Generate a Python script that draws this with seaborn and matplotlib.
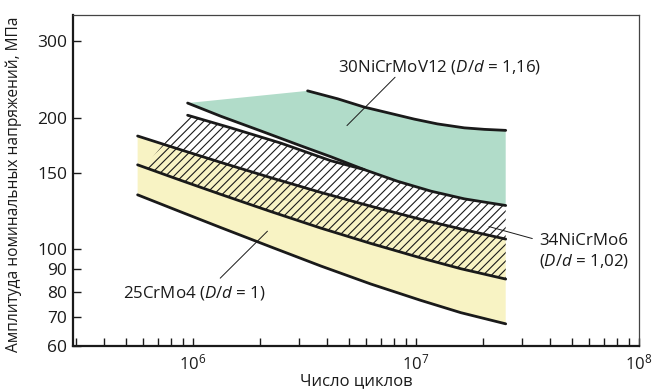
import numpy as np
import pandas as pd
import matplotlib
matplotlib.use("Agg")
import matplotlib.pyplot as plt
from matplotlib.ticker import NullFormatter, NullLocator, LogLocator
import seaborn as sns

# values (cycles, MPa)
# 30NiCrMoV12 band
n_green_top = [9.47e5, 3.27e6]
s_green_top = [216.6, 231]
n_green_upper = [3.27e6, 4.46e6, 5.87e6, 7.72e6, 9.83e6, 1.25e7, 1.65e7, 2.03e7, 2.53e7]
s_green_upper = [231, 221.5, 212, 205, 199, 194, 190, 188.5, 187.5]
n_line_a = [9.47e5, 1.335e6, 2.02e6, 3.05e6, 4.16e6, 5.87e6, 8.28e6, 1.17e7, 1.65e7, 2.53e7]
s_line_a = [216.6, 202.0, 186.9, 172.8, 163.1, 152.4, 143.3, 136.0, 130.6, 126.1]

# 34NiCrMo6 band (upper line runs into line A at ~5.9e6)
n_line_b = [9.47e5, 1.48e6, 2.48e6, 4.16e6, 5.87e6]
s_line_b = [203.1, 190.0, 175.3, 159.7, 152.4]
n_hatch_start = 6.05e5
s_hatch_start = 154.3

# common abscissas of the lower three curves
n_low = [5.65e5, 8.83e5, 1.335e6, 2.24e6, 3.75e6, 6.28e6, 1.053e7, 1.592e7, 2.53e7]
s_line_c = [182.0, 169.2, 158.3, 146.0, 135.1, 125.6, 117.2, 111.4, 105.6]
s_line_d = [156.3, 144.0, 133.7, 122.1, 111.9, 103.2, 95.6, 90.3, 85.5]
s_line_e = [133.4, 121.9, 112.2, 101.3, 91.6, 83.3, 76.4, 71.6, 67.5]

y_ticks = [60, 70, 80, 90, 100, 150, 200, 300]
x_ticks = [1e6, 1e7, 1e8]
x_tick_labels = [r"$\mathregular{10^6}$", r"$\mathregular{10^7}$", r"$\mathregular{10^8}$"]

green = "#b1dcc9"
yellow = "#f8f3c4"
ink = "#1a1a1a"

sns.set_theme(style="ticks")
plt.rcParams["font.family"] = ["Open Sans", "DejaVu Sans"]
plt.rcParams["mathtext.fontset"] = "custom"
plt.rcParams["mathtext.rm"] = "Open Sans"
plt.rcParams["mathtext.it"] = "Open Sans:italic"
plt.rcParams["hatch.linewidth"] = 0.8

fig = plt.figure(figsize=(6.64, 3.92), dpi=100)
ax = fig.add_axes([0.110, 0.117, 0.852, 0.845])
ax.set_xscale("log")
ax.set_yscale("log")

# fills
gx = n_green_top + n_green_upper[1:] + n_line_a[::-1]
gy = s_green_top + s_green_upper[1:] + s_line_a[::-1]
ax.fill(gx, gy, color=green, lw=0, zorder=1)

ax.fill(n_low + n_low[::-1], s_line_c + s_line_e[::-1], color=yellow, lw=0, zorder=1)

hx = n_line_b + n_line_a[6:] + n_low[:0:-1] + [n_hatch_start]
hy = s_line_b + s_line_a[6:] + s_line_d[:0:-1] + [s_hatch_start]
ax.fill(hx, hy, facecolor="none", edgecolor=ink, hatch="////", lw=0, zorder=2)

# black curves
curves = [(n_green_upper, s_green_upper), (n_line_a, s_line_a), (n_line_b, s_line_b),
          (n_low, s_line_c), (n_low, s_line_d), (n_low, s_line_e)]
for xs, ys in curves:
    sns.lineplot(x=xs, y=ys, ax=ax, color=ink, lw=2.0, estimator=None, sort=False, zorder=3)

# labels with leader lines
lead = dict(arrowstyle="-", color=ink, lw=0.7, shrinkA=0, shrinkB=0)
ax.annotate("", xy=(4.91e6, 192.3), xytext=(8.07e6, 248.2), arrowprops=lead, zorder=4)
ax.annotate("", xy=(2.13e7, 112.8), xytext=(3.33e7, 105.9), arrowprops=lead, zorder=4)
ax.annotate("", xy=(2.16e6, 110.1), xytext=(1.326e6, 85.9), arrowprops=lead, zorder=4)
ax.text(4.46e6, 262.5, r"30NiCrMoV12 ($\mathit{D/d}$ = 1,16)", ha="left", va="center",
        fontsize=12.2, color=ink)
ax.text(3.56e7, 99.0, "34NiCrMo6\n" + r"($\mathit{D/d}$ = 1,02)", ha="left", va="center",
        fontsize=12.2, linespacing=1.2, color=ink)
ax.text(4.84e5, 79.4, r"25CrMo4 ($\mathit{D/d}$ = 1)", ha="left", va="center",
        fontsize=12.2, color=ink)

# axes
ax.set_xlim(2.9e5, 1e8)
ax.set_ylim(60, 345)
ax.set_yticks(y_ticks)
ax.set_yticklabels([str(v) for v in y_ticks])
ax.yaxis.set_minor_locator(NullLocator())
ax.set_xticks(x_ticks)
ax.set_xticklabels(x_tick_labels)
ax.xaxis.set_minor_locator(LogLocator(base=10, subs=np.arange(2, 10)))
ax.xaxis.set_minor_formatter(NullFormatter())
ax.tick_params(axis="both", which="both", direction="in", colors=ink, width=1.0)
ax.tick_params(axis="y", which="major", length=6, pad=4, labelsize=12.5)
ax.tick_params(axis="x", which="both", length=6, pad=5, labelsize=12)

ax.set_xlabel("Число циклов", fontsize=12, color=ink)
ax.set_ylabel("Амплитуда номинальных напряжений, МПа", fontsize=11.2, color=ink)
ax.xaxis.set_label_coords(0.5, -0.083)
ax.yaxis.set_label_coords(-0.09, 0.489)

for side in ["left", "bottom"]:
    ax.spines[side].set_linewidth(1.6)
    ax.spines[side].set_color(ink)
for side in ["top", "right"]:
    ax.spines[side].set_visible(True)
    ax.spines[side].set_linewidth(0.9)
    ax.spines[side].set_color("#444444")

fig.savefig("out.png", dpi=100)
